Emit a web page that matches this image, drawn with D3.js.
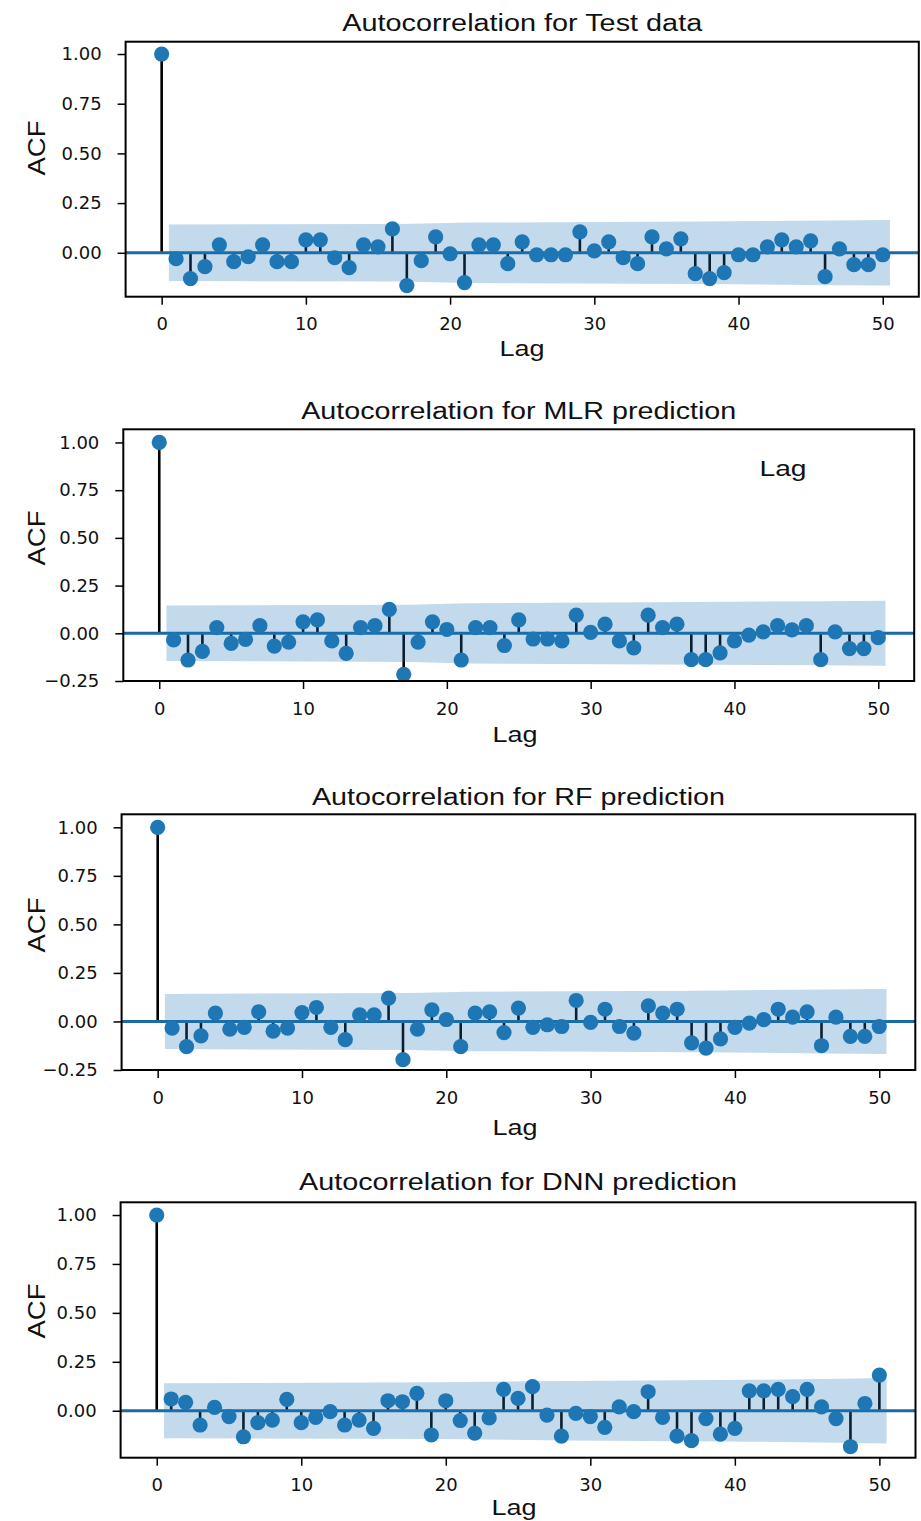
<!DOCTYPE html>
<html>
<head>
<meta charset="utf-8">
<script src="https://cdn.jsdelivr.net/npm/d3@7"></script>
<style>
  body { margin: 0; background: #fff; }
  svg { display: block; }
  .tick text { font-family: "DejaVu Sans", sans-serif; font-size: 18px; fill: #111; }
  .tick line { stroke: #000; stroke-width: 1.5; }
  .lbl { font-family: "Liberation Sans", Arial, sans-serif; fill: #111; }
</style>
</head>
<body>
<svg id="chart" width="921" height="1521"></svg>
<script>
// lags 0..50
const lags = d3.range(0, 51);
const xTicks = [0, 10, 20, 30, 40, 50];
const yTicks = [-0.25, 0, 0.25, 0.5, 0.75, 1.0];

const titles = ["Autocorrelation for Test data", "Autocorrelation for MLR prediction",
                "Autocorrelation for RF prediction", "Autocorrelation for DNN prediction"];

const acfTest = [1.00,
  -0.03, -0.13, -0.07, 0.04, -0.045, -0.02, 0.04, -0.045, -0.045, 0.065,
  0.065, -0.025, -0.075, 0.04, 0.03, 0.12, -0.165, -0.04, 0.08, -0.005,
  -0.15, 0.04, 0.04, -0.055, 0.055, -0.01, -0.01, -0.01, 0.105, 0.01,
  0.055, -0.025, -0.055, 0.08, 0.02, 0.07, -0.105, -0.13, -0.10, -0.01,
  -0.01, 0.03, 0.065, 0.03, 0.06, -0.12, 0.02, -0.06, -0.06, -0.01];

const acfMLR = [1.00,
  -0.035, -0.14, -0.095, 0.03, -0.053, -0.032, 0.04, -0.067, -0.046, 0.06,
  0.07, -0.04, -0.105, 0.03, 0.04, 0.125, -0.215, -0.046, 0.06, 0.02,
  -0.14, 0.03, 0.03, -0.064, 0.07, -0.03, -0.03, -0.04, 0.095, 0.005,
  0.048, -0.04, -0.076, 0.095, 0.03, 0.048, -0.138, -0.138, -0.103, -0.04,
  -0.01, 0.007, 0.04, 0.018, 0.04, -0.138, 0.007, -0.08, -0.08, -0.023];

const acfRF = [1.00,
  -0.034, -0.13, -0.074, 0.043, -0.04, -0.03, 0.05, -0.05, -0.034, 0.046,
  0.072, -0.03, -0.094, 0.034, 0.034, 0.12, -0.197, -0.04, 0.06, 0.01,
  -0.13, 0.043, 0.05, -0.057, 0.069, -0.03, -0.017, -0.026, 0.108, -0.005,
  0.063, -0.026, -0.06, 0.08, 0.043, 0.063, -0.11, -0.137, -0.09, -0.03,
  -0.009, 0.009, 0.063, 0.022, 0.05, -0.125, 0.022, -0.077, -0.077, -0.026];

const acfDNN = [1.00,
  0.06, 0.043, -0.073, 0.017, -0.03, -0.133, -0.061, -0.048, 0.058, -0.061,
  -0.034, -0.005, -0.073, -0.048, -0.09, 0.051, 0.046, 0.089, -0.124, 0.051,
  -0.05, -0.115, -0.037, 0.109, 0.063, 0.123, -0.022, -0.13, -0.014, -0.03,
  -0.085, 0.02, -0.005, 0.097, -0.034, -0.13, -0.153, -0.04, -0.12, -0.09,
  0.102, 0.102, 0.109, 0.072, 0.109, 0.02, -0.04, -0.184, 0.037, 0.182];

// confidence band half widths (read at a few lags)
const bandLagsTest = [0.5, 16.5, 21.5, 37.5, 46.5, 50.5];
const bandTest     = [0.142, 0.145, 0.152, 0.157, 0.163, 0.165];
const bandLagsMLR  = [0.5, 17.5, 21.5, 34.5, 46.5, 50.5];
const bandMLR      = [0.145, 0.15, 0.158, 0.163, 0.168, 0.17];
const bandLagsRF   = [0.5, 17.5, 21.5, 37.5, 46.5, 50.5];
const bandRF       = [0.142, 0.147, 0.153, 0.158, 0.165, 0.167];
const bandLagsDNN  = [0.5, 19.5, 28.5, 41.5, 48.5, 50.5];
const bandDNN      = [0.14, 0.145, 0.152, 0.158, 0.165, 0.167];

const series = [acfTest, acfMLR, acfRF, acfDNN];
const bandLags = [bandLagsTest, bandLagsMLR, bandLagsRF, bandLagsDNN];
const bands = [bandTest, bandMLR, bandRF, bandDNN];

// panel layout (pixels + axis limits)
const layout = [
  {left: 125.6, right: 918.8, top: 41.7,   bottom: 296.7,  ymin: -0.221, ymax: 1.062, titleY: 31,   acfY: 148,  lagX: 522, lagY: 356},
  {left: 123.3, right: 914.2, top: 429.3,  bottom: 681,    ymin: -0.25,  ymax: 1.069, titleY: 419,  acfY: 538,  lagX: 515, lagY: 742},
  {left: 121.6, right: 915.3, top: 814.3,  bottom: 1070,   ymin: -0.25,  ymax: 1.067, titleY: 805,  acfY: 925,  lagX: 515, lagY: 1135},
  {left: 120.6, right: 915.5, top: 1202.3, bottom: 1457.7, ymin: -0.24,  ymax: 1.065, titleY: 1190, acfY: 1311, lagX: 514, lagY: 1515}
];
const titleWidths = [360, 435, 413, 438];

const blue = "#1f77b4";
const svg = d3.select("#chart");

layout.forEach((p, i) => {
  const x = d3.scaleLinear().domain([-2.5, 52.5]).range([p.left, p.right]);
  const y = d3.scaleLinear().domain([p.ymin, p.ymax]).range([p.bottom, p.top]);
  const g = svg.append("g");
  const acf = series[i];

  // stems
  g.append("g").selectAll("line")
    .data(lags)
    .enter()
    .append("line")
    .attr("x1", d => x(d)).attr("x2", d => x(d))
    .attr("y1", y(0)).attr("y2", d => y(acf[d]))
    .attr("stroke", "#000")
    .attr("stroke-width", 2.6);

  // zero line
  g.append("line")
    .attr("x1", p.left).attr("x2", p.right)
    .attr("y1", y(0)).attr("y2", y(0))
    .attr("stroke", "#1a6aa6")
    .attr("stroke-width", 3);

  // markers
  g.append("g").selectAll("circle")
    .data(lags)
    .enter()
    .append("circle")
    .attr("cx", d => x(d))
    .attr("cy", d => y(acf[d]))
    .attr("r", 7.6)
    .attr("fill", blue);

  // confidence band
  const bandPts = bandLags[i].map((l, k) => ({l: l, h: bands[i][k]}));
  g.append("path")
    .datum(bandPts)
    .attr("fill", blue)
    .attr("opacity", 0.27)
    .attr("d", d3.area().x(d => x(d.l)).y0(d => y(-d.h)).y1(d => y(d.h)));

  // axes
  const yAxis = d3.axisLeft(y)
    .tickValues(yTicks.filter(t => t >= p.ymin - 1e-9 && t <= p.ymax))
    .tickFormat(d3.format(".2f"))
    .tickSize(8).tickPadding(16);
  g.append("g").attr("transform", `translate(${p.left},0)`).call(yAxis)
    .call(a => a.select(".domain").remove());

  const xAxis = d3.axisBottom(x).tickValues(xTicks).tickSize(8).tickPadding(13);
  g.append("g").attr("transform", `translate(0,${p.bottom})`).call(xAxis)
    .call(a => a.select(".domain").remove());

  // frame
  g.append("rect")
    .attr("x", p.left).attr("y", p.top)
    .attr("width", p.right - p.left).attr("height", p.bottom - p.top)
    .attr("fill", "none")
    .attr("stroke", "#000")
    .attr("stroke-width", 2);

  // labels
  g.append("text").attr("class", "lbl")
    .attr("x", (p.left + p.right) / 2).attr("y", p.titleY)
    .attr("text-anchor", "middle")
    .attr("font-size", "23px")
    .attr("textLength", titleWidths[i])
    .attr("lengthAdjust", "spacingAndGlyphs")
    .text(titles[i]);

  g.append("text").attr("class", "lbl")
    .attr("transform", `translate(45,${p.acfY}) rotate(-90)`)
    .attr("text-anchor", "middle")
    .attr("font-size", "24px")
    .attr("textLength", 55)
    .attr("lengthAdjust", "spacingAndGlyphs")
    .text("ACF");

  g.append("text").attr("class", "lbl")
    .attr("x", p.lagX).attr("y", p.lagY)
    .attr("text-anchor", "middle")
    .attr("font-size", "22px")
    .attr("textLength", 45)
    .attr("lengthAdjust", "spacingAndGlyphs")
    .text("Lag");
});

// stray label inside the MLR panel
svg.append("text").attr("class", "lbl")
  .attr("x", 783).attr("y", 476)
  .attr("text-anchor", "middle")
  .attr("font-size", "22px")
  .attr("textLength", 47)
  .attr("lengthAdjust", "spacingAndGlyphs")
  .text("Lag");
</script>
</body>
</html>
